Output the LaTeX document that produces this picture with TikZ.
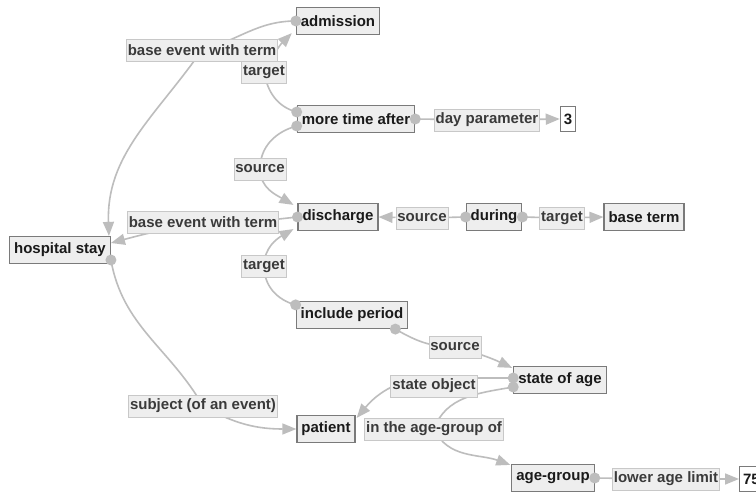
\documentclass[tikz,border=0pt]{standalone}
\usepackage{fontspec}
\setmainfont{Liberation Sans}
\usetikzlibrary{arrows.meta,backgrounds}
\definecolor{edgec}{HTML}{BDBDBD}
\definecolor{boxb}{HTML}{7A7A7A}
\definecolor{boxf}{HTML}{EEEEEE}
\definecolor{boxt}{HTML}{1A1A1A}
\definecolor{lblb}{HTML}{C8C8C8}
\definecolor{lblt}{HTML}{3A3A3A}
\begin{document}
\begin{tikzpicture}[x=1pt,y=1pt,
  box/.style={draw=boxb, line width=1.2pt, fill=boxf, text=boxt,
    font=\fontsize{15}{17}\selectfont\bfseries, minimum height=27pt,
    inner xsep=4.5pt, inner ysep=0pt},
  lit/.style={box, fill=white, inner xsep=3.5pt, minimum height=25pt},
  lbl/.style={draw=lblb, line width=0.8pt, fill=boxf, text=lblt,
    font=\fontsize{15}{17}\selectfont\bfseries, minimum height=22pt,
    inner xsep=1.5pt, inner ysep=0pt},
  edge/.style={draw=edgec, line width=1.6pt, -{Triangle[length=14pt,width=11pt]}},
  dotc/.style={fill=edgec}
]
\useasboundingbox (0,0) rectangle (756,492);

% nodes
\node[box] (adm) at (338,471) {admission};
\node[box] (mta) at (356,373) {more time after};
\node[lit] (three) at (568,373) {3};
\node[lbl] (dp) at (487,372) {day parameter};
\node[box] (dis) at (338,275) {discharge};
\node[lbl] (src1) at (422,274) {source};
\node[box] (dur) at (494,275) {during};
\node[lbl] (tgt1) at (562,274) {target};
\node[box] (bt) at (644,275) {base term};
\node[box] (hs) at (60,242) {hospital stay};
\node[lbl] (bewt2) at (203,270) {base event with term};
\node[lbl] (src0) at (260,323) {source};
\node[lbl] (tgt2) at (264,226) {target};
\node[lbl] (bewt1) at (202,442) {base event with term};
\node[lbl] (tgt0) at (264,420) {target};
\node[box] (ip) at (352,177) {include period};
\node[lbl] (src2) at (455,145) {source};
\node[box] (soa) at (560,112) {state of age};
\node[lbl] (so) at (434,106) {state object};
\node[box] (pat) at (326,63) {patient};
\node[lbl] (iag) at (434,63) {in the age-group of};
\node[box] (ag) at (553,14) {age-group};
\node[lbl] (lal) at (666,13) {lower age limit};
\node[lit, anchor=west] (s75) at (739,13) {75};
\node[lbl] (soe) at (203,86) {subject (of an event)};

% attachment points
\coordinate (mtaU) at ([yshift=7pt]mta.west);
\coordinate (mtaD) at ([yshift=-7pt]mta.west);
\coordinate (ipT) at ([yshift=-4pt]ip.north west);
\coordinate (ipB) at ([xshift=-13pt]ip.south east);
\coordinate (hsB) at ([yshift=-10pt]hs.east);
\coordinate (soaU) at ([yshift=2pt]soa.west);
\coordinate (soaD) at ([yshift=-7pt]soa.west);

\begin{pgfonlayer}{background}
\fill[white] (0,0) rectangle (756,492);
\draw[edge] (adm.west) to[out=180,in=15] (bewt1.center)
  to[out=235,in=92] ([xshift=-2pt]hs.north east);
\draw[edge] (dis.west) -- ([yshift=3pt]bewt2.east) to[out=180,in=15] ([yshift=7pt]hs.east);
\draw[edge] (mtaU) to[out=165,in=-80] (tgt0.center)
  to[out=60,in=225] ([xshift=-4pt,yshift=2pt]adm.south west);
\draw[edge] (mtaD) to[out=195,in=90] (src0.center)
  to[out=-90,in=150] ([xshift=-4pt,yshift=-2pt]dis.north west);
\draw[edge] (ipT) to[out=165,in=-90] (tgt2.center)
  to[out=90,in=210] ([xshift=-4pt,yshift=2pt]dis.south west);
\draw[edge] (hsB) to[out=-80,in=120] (soe.center)
  to[out=-30,in=180] (pat.west);
\draw[edge] (mta.east) -- (dp) -- (three.west);
\draw[edge] (dur.west) -- (src1) -- (dis.east);
\draw[edge] (dur.east) -- (tgt1) -- (bt.west);
\draw[edge] (ipB) to[out=-30,in=180] (src2.center)
  to[out=-15,in=155] ([xshift=-1pt,yshift=-2pt]soa.north west);
\draw[edge] (soaU) -- ([yshift=8pt]so.center)
  to[out=180,in=50] ([xshift=1pt,yshift=-3pt]pat.north east);
\draw[edge] (soaD) to[out=190,in=70] (iag.center)
  to[out=-65,in=160] ([xshift=-1pt,yshift=-1pt]ag.north west);
\draw[edge] (ag.east) -- (lal) -- (s75.west);
\end{pgfonlayer}

% start dots
\foreach \p in {adm.west, dis.west, mtaU, mtaD, ipT, hsB, mta.east, dur.west, dur.east, ipB, soaU, soaD, ag.east}
  \fill[dotc] (\p) circle (5.5pt);
\end{tikzpicture}
\end{document}
